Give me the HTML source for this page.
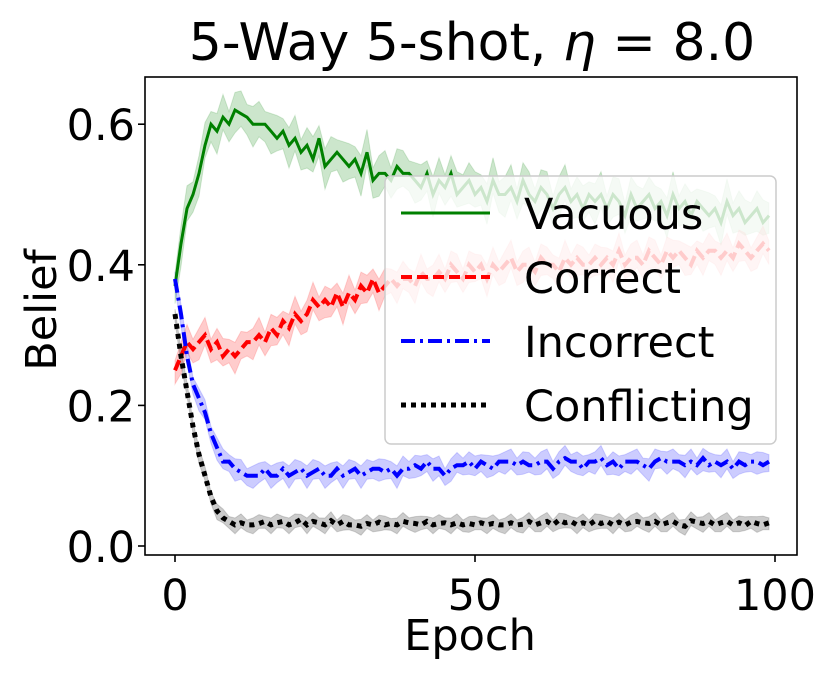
<!DOCTYPE html>
<html><head><meta charset="utf-8"><style>
body{margin:0;background:#fff;}
svg text{font-family:"DejaVu Sans","Liberation Sans",sans-serif;fill:#000;}
</style></head><body>
<svg id="chart" width="830" height="673" viewBox="0 0 830 673" xmlns="http://www.w3.org/2000/svg">
<g id="plot"></g>
</svg>
<script>
const epochs=[...Array(100).keys()];
const vacuous=[.37,.43,.48,.50,.53,.57,.60,.59,.61,.60,.62,.615,.61,.60,.60,.60,.59,.58,.59,.57,.58,.56,.57,.55,.58,.54,.55,.56,.55,.54,.55,.53,.56,.52,.53,.53,.52,.54,.53,.53,.52,.51,.53,.50,.52,.51,.53,.50,.51,.52,.50,.51,.49,.52,.50,.50,.51,.49,.52,.50,.49,.51,.50,.48,.50,.51,.49,.50,.48,.50,.49,.50,.48,.50,.49,.47,.50,.48,.49,.50,.48,.49,.47,.50,.48,.49,.47,.49,.48,.47,.48,.46,.49,.47,.48,.46,.47,.48,.46,.47];
const correct=[.25,.27,.29,.28,.29,.30,.28,.29,.27,.28,.27,.28,.29,.29,.30,.29,.31,.30,.32,.31,.33,.32,.33,.35,.34,.35,.34,.36,.34,.36,.35,.37,.36,.38,.36,.37,.38,.37,.38,.38,.37,.39,.38,.38,.39,.38,.40,.39,.38,.40,.39,.40,.38,.40,.39,.40,.41,.39,.40,.40,.39,.41,.40,.40,.39,.41,.40,.41,.40,.40,.41,.40,.41,.40,.42,.40,.41,.41,.40,.42,.41,.40,.42,.41,.42,.41,.40,.42,.41,.42,.42,.41,.42,.41,.43,.42,.41,.42,.43,.42];
const incorrect=[.38,.33,.27,.23,.21,.19,.16,.14,.12,.12,.11,.105,.10,.10,.10,.11,.10,.10,.11,.10,.105,.11,.10,.105,.11,.10,.10,.11,.10,.105,.11,.10,.105,.11,.11,.105,.11,.10,.11,.11,.115,.11,.12,.11,.11,.10,.11,.115,.115,.12,.11,.12,.115,.11,.12,.12,.12,.115,.12,.115,.115,.12,.12,.11,.12,.125,.12,.12,.11,.12,.12,.125,.115,.12,.11,.12,.12,.12,.115,.11,.12,.125,.12,.12,.12,.115,.12,.115,.125,.115,.12,.115,.12,.11,.12,.115,.12,.12,.115,.12];
const conflicting=[.33,.27,.22,.17,.13,.10,.07,.05,.04,.035,.03,.033,.03,.03,.032,.035,.03,.033,.035,.03,.033,.038,.03,.035,.033,.03,.036,.03,.035,.03,.03,.028,.032,.03,.034,.03,.032,.03,.035,.033,.032,.03,.035,.03,.032,.033,.03,.033,.03,.032,.03,.033,.03,.032,.03,.03,.033,.03,.031,.035,.03,.033,.035,.03,.037,.033,.035,.03,.033,.03,.036,.032,.035,.03,.034,.03,.034,.035,.033,.032,.035,.03,.033,.035,.03,.028,.036,.034,.032,.035,.03,.033,.035,.03,.033,.029,.035,.032,.03,.033];
const xTicks=[0,50,100];
const yTicks=[0.0,0.2,0.4,0.6];
const seriesNames=["Vacuous","Correct","Incorrect","Conflicting"];
const bandWidths=[0.018,0.014,0.01,0.007];

const NS="http://www.w3.org/2000/svg";
const X0=145,X1=797,Y0=77,Y1=555;
function xs(v){return 175+v*6.0;}
function ys(v){return 546-v*703;}
const g=document.getElementById('plot');
function mk(tag,attrs,parent){const e=document.createElementNS(NS,tag);for(const k in attrs)e.setAttribute(k,attrs[k]);(parent||g).appendChild(e);return e;}

const series=[vacuous,correct,incorrect,conflicting];
const colors=["#008000","#ff0000","#0000ff","#000000"];
const fills=["#008000","#ff0000","#0000ff","#000000"];
const dashes=["","11,5","14,5,3,5","5,5"];
const widths=[3,4,4,5];
const names=["vacuous","correct","incorrect","conflicting"];

series.forEach((s,i)=>{
  let up=s.map((v,k)=>xs(epochs[k]).toFixed(1)+","+ys(v+bandWidths[i]*(1+(k%3)*0.4)).toFixed(1));
  let dn=s.map((v,k)=>xs(epochs[k]).toFixed(1)+","+ys(v-bandWidths[i]*(1+((k+1)%3)*0.4)).toFixed(1)).reverse();
  const b=mk('polygon',{points:up.concat(dn).join(' '),fill:fills[i],'fill-opacity':0.2,stroke:fills[i],'stroke-opacity':0.15});
  
  
});
series.forEach((s,i)=>{
  const p=mk('polyline',{points:s.map((v,k)=>xs(epochs[k]).toFixed(1)+","+ys(v).toFixed(1)).join(' '),fill:'none',stroke:colors[i],'stroke-width':widths[i],'stroke-dasharray':dashes[i]});
  
  
});
const fr=mk('rect',{x:X0,y:Y0,width:X1-X0,height:Y1-Y0,fill:'none',stroke:'#000','stroke-width':1.6});


xTicks.forEach(t=>{
  mk('line',{x1:xs(t),x2:xs(t),y1:Y1,y2:Y1+7,stroke:'#000','stroke-width':1.6});
  const tx=mk('text',{x:xs(t),y:Y1+55,'font-size':43,'text-anchor':'middle'});tx.textContent=String(t);
  
  
});
yTicks.forEach(t=>{
  mk('line',{x1:X0-7,x2:X0,y1:ys(t),y2:ys(t),stroke:'#000','stroke-width':1.6});
  const tx=mk('text',{x:X0-10,y:ys(t)+16,'font-size':43,'text-anchor':'end'});tx.textContent=t.toFixed(1);
  
  
});
const lg=mk('g',{});


mk('rect',{x:385,y:176,width:391,height:268,rx:6,fill:'#fff','fill-opacity':0.8,stroke:'#ccc','stroke-width':1.5},lg);
seriesNames.forEach((n,i)=>{
  const y=213+i*64;
  const e=mk('g',{},lg);
  
  
  mk('line',{x1:401,x2:490,y1:y,y2:y,stroke:colors[i],'stroke-width':widths[i],'stroke-dasharray':dashes[i]},e);
  const t=mk('text',{x:524,y:y+16,'font-size':43},e);t.textContent=n;
});
const title=mk('text',{x:472,y:60,'font-size':52,'text-anchor':'middle'});
title.innerHTML='5-Way 5-shot, <tspan font-style="italic">η</tspan> = 8.0';


const xl=mk('text',{x:470,y:650,'font-size':43,'text-anchor':'middle'});xl.textContent='Epoch';


const yl=mk('text',{x:0,y:0,'font-size':43,'text-anchor':'middle',transform:'translate(56,310) rotate(-90)'});yl.textContent='Belief';


</script>
</body></html>
